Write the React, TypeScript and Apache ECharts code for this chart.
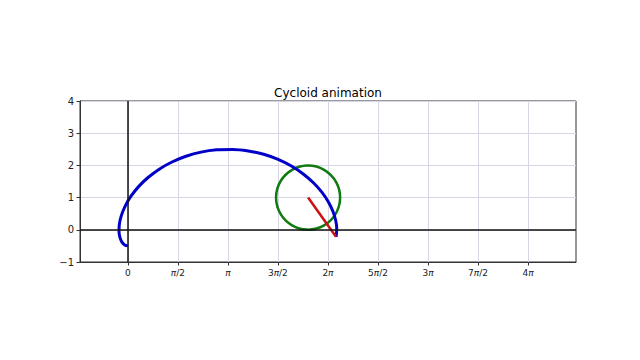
import React, { useEffect, useRef } from "react";
import * as echarts from "echarts";

const titleText = "Cycloid animation";

// traced path of the pen point (x, y)
const curveX = [0, -0.098, -0.184, -0.247, -0.276, -0.262, -0.198, -0.078, 0.101, 0.339, 0.636, 0.987, 1.387, 1.827, 2.298, 2.788, 3.288, 3.783, 4.264, 4.718, 5.135, 5.507, 5.827, 6.091, 6.294, 6.438, 6.525, 6.559, 6.547, 6.536];
const curveY = [-0.5, -0.47, -0.382, -0.238, -0.045, 0.19, 0.456, 0.745, 1.044, 1.341, 1.624, 1.883, 2.106, 2.285, 2.413, 2.485, 2.497, 2.45, 2.345, 2.187, 1.98, 1.735, 1.461, 1.168, 0.869, 0.574, 0.297, 0.048, -0.163, -0.217];

// rolling circle: center x, center y, radius
const circle = [5.66, 1, 1];
// red spoke: from center to pen point
const spokeX = [5.66, 6.536];
const spokeY = [1, -0.217];

const xTicks = [0, 1.5708, 3.1416, 4.7124, 6.2832, 7.8540, 9.4248, 10.9956, 12.5664];
const xTickLabels = ["0", "{i|π}/2", "{i|π}", "3{i|π}/2", "2{i|π}", "5{i|π}/2", "3{i|π}", "7{i|π}/2", "4{i|π}"];
const yTicks = [-1, 0, 1, 2, 3, 4];

const FONT = "DejaVu Sans";

export default function App() {
  const ref = useRef<HTMLDivElement>(null);
  useEffect(() => {
    const chart = echarts.init(ref.current!, null, { renderer: "svg" });
    const curve = curveX.map((x, i) => [x, curveY[i]]);
    const spoke = spokeX.map((x, i) => [x, spokeY[i]]);
    chart.setOption({
      animation: false,
      backgroundColor: "#ffffff",
      grid: {
        left: 80,
        right: 64,
        top: 101,
        bottom: 98,
        show: true,
        borderColor: "#333333",
        borderWidth: 1,
        backgroundColor: "transparent",
      },
      graphic: [
        {
          type: "text",
          x: 328,
          y: 93,
          style: {
            text: titleText,
            font: `12px "${FONT}"`,
            fill: "#000000",
            textAlign: "center",
            textVerticalAlign: "middle",
          },
        },
      ],
      xAxis: {
        type: "value",
        min: -1.5,
        max: 14.07,
        axisLine: { show: true, onZero: false, lineStyle: { color: "#333333", width: 1 } },
        axisTick: { show: true, length: 3.5, customValues: xTicks, lineStyle: { color: "#333333" } },
        axisLabel: {
          customValues: xTicks,
          fontFamily: FONT,
          fontSize: 9,
          color: "#222222",
          margin: 6,
          formatter: (v: number) => {
            let best = 0;
            xTicks.forEach((t, i) => {
              if (Math.abs(t - v) < Math.abs(xTicks[best] - v)) best = i;
            });
            return xTickLabels[best];
          },
          rich: {
            i: { fontFamily: FONT, fontStyle: "italic", fontSize: 9, color: "#222222" },
          },
        },
        splitLine: { show: true, lineStyle: { color: "#d6d6e6", width: 1 } },
      },
      yAxis: {
        type: "value",
        min: -1,
        max: 4,
        interval: 1,
        axisLine: { show: true, onZero: false, lineStyle: { color: "#333333", width: 1 } },
        axisTick: { show: true, length: 3.5, lineStyle: { color: "#333333" } },
        axisLabel: {
          fontFamily: FONT,
          fontSize: 10,
          color: "#222222",
          margin: 6,
          formatter: (v: number) => (v < 0 ? "\u2212" + Math.abs(v) : String(v)),
        },
        splitLine: { show: true, lineStyle: { color: "#d6d6e6", width: 1 } },
      },
      series: [
        {
          type: "line",
          data: [],
          z: 1,
          markLine: {
            silent: true,
            symbol: "none",
            label: { show: false },
            lineStyle: { color: "#111111", width: 1.5, type: "solid" },
            data: [{ xAxis: 0 }, { yAxis: 0 }],
          },
        },
        {
          type: "custom",
          z: 2,
          data: [circle],
          renderItem: (params: any, api: any) => {
            const c = api.coord([api.value(0), api.value(1)]);
            const s = api.size([api.value(2), api.value(2)]);
            return {
              type: "circle",
              shape: { cx: c[0], cy: c[1], r: (s[0] + s[1]) / 2 },
              style: { fill: "none", stroke: "#0f7a0f", lineWidth: 2.5 },
            };
          },
        },
        {
          type: "line",
          z: 3,
          data: curve,
          showSymbol: false,
          smooth: 0.3,
          lineStyle: { color: "#0000c8", width: 3 },
        },
        {
          type: "line",
          z: 4,
          data: spoke,
          showSymbol: false,
          lineStyle: { color: "#cc1111", width: 2.5 },
        },
      ],
    });
    return () => chart.dispose();
  }, []);
  return (
    <div
      ref={ref}
      style={{ position: "fixed", left: 0, top: 0, width: 640, height: 360 }}
    />
  );
}
